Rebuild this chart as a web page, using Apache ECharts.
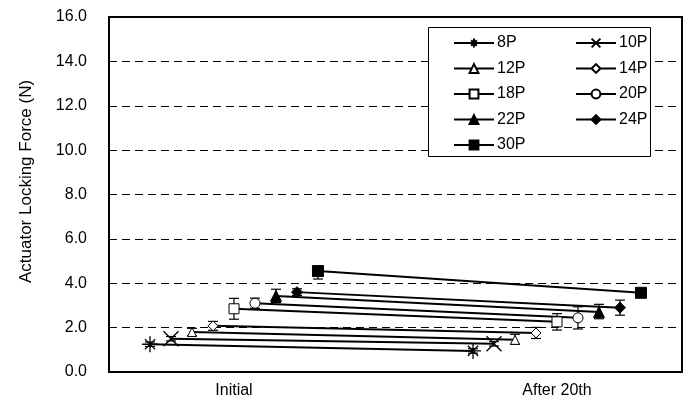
<!DOCTYPE html>
<html>
<head>
<meta charset="utf-8">
<script src="https://cdn.jsdelivr.net/npm/echarts@6/dist/echarts.min.js"></script>
<style>html,body{margin:0;padding:0;background:#fff}#c{width:691px;height:407px}</style>
</head>
<body>
<div id="c"></div>
<script>
// ---- data ----
const seriesNames = ['8P', '10P', '12P', '14P', '18P', '20P', '22P', '24P', '30P'];
const categories = ['Initial', 'After 20th'];
const initialValues = [1.25, 1.50, 1.80, 2.08, 2.85, 3.10, 3.43, 3.60, 4.55];
const afterValues   = [0.95, 1.27, 1.45, 1.76, 2.26, 2.44, 2.70, 2.90, 3.57];
const initialErrLow  = [0.10, 0.10, 0.17, 0.20, 0.47, 0.23, 0.30, 0.15, 0.36];
const initialErrHigh = [0.10, 0.10, 0.17, 0.20, 0.47, 0.23, 0.30, 0.15, 0.00];
const afterErrLow    = [0.10, 0.10, 0.20, 0.25, 0.37, 0.50, 0.30, 0.34, 0.00];
const afterErrHigh   = [0.10, 0.10, 0.25, 0.25, 0.37, 0.50, 0.35, 0.34, 0.00];
const yTicks = [0, 2, 4, 6, 8, 10, 12, 14, 16];

// ---- styling ----
const FONT = "'Liberation Sans',Arial,sans-serif";
const symbols = [
  'path://M5,0L5,10M0,5L10,5M1.8,1.8L8.2,8.2M8.2,1.8L1.8,8.2',
  'path://M0,0L10,10M10,0L0,10',
  'triangle', 'diamond', 'rect', 'circle', 'triangle', 'diamond', 'rect'
];
const filled = [false, false, false, false, false, false, true, true, true];
const sizes = [16, 15, 9, 10, 10, 10, 11, 11, 11];
const step = 0.065;
const mid = 4;

const series = [];
seriesNames.forEach((name, i) => {
  const off = (i - mid) * step;
  series.push({
    name: name,
    type: 'line',
    data: [[1 + off, initialValues[i]], [2 + off, afterValues[i]]],
    symbol: symbols[i],
    symbolSize: sizes[i],
    symbolKeepAspect: true,
    lineStyle: { color: '#000', width: 2 },
    itemStyle: {
      color: filled[i] ? '#000' : (i < 2 ? 'none' : '#fff'),
      borderColor: '#000',
      borderWidth: i < 2 ? 1.3 : 1
    },
    z: 3
  });
  series.push({
    name: name,
    type: 'custom',
    data: [
      [1 + off, initialValues[i] - initialErrLow[i], initialValues[i] + initialErrHigh[i]],
      [2 + off, afterValues[i] - afterErrLow[i], afterValues[i] + afterErrHigh[i]]
    ],
    renderItem: function (params, api) {
      const x = api.value(0);
      const lo = api.coord([x, api.value(1)]);
      const hi = api.coord([x, api.value(2)]);
      const w = 5;
      return {
        type: 'group',
        children: [
          { type: 'line', shape: { x1: lo[0], y1: lo[1], x2: hi[0], y2: hi[1] }, style: { stroke: '#000', lineWidth: 1.2 } },
          { type: 'line', shape: { x1: lo[0] - w, y1: lo[1], x2: lo[0] + w, y2: lo[1] }, style: { stroke: '#000', lineWidth: 1.2 } },
          { type: 'line', shape: { x1: hi[0] - w, y1: hi[1], x2: hi[0] + w, y2: hi[1] }, style: { stroke: '#000', lineWidth: 1.2 } }
        ]
      };
    },
    z: 2,
    silent: true
  });
});

const chart = echarts.init(document.getElementById('c'), null, { renderer: 'canvas' });
const legendCommon = {
  orient: 'vertical',
  top: 30,
  itemWidth: 40,
  itemHeight: 11,
  itemGap: 9.5,
  textStyle: { fontFamily: FONT, fontSize: 16, color: '#000', padding: [0, 0, 0, -2] },
  selectedMode: false
};
chart.setOption({
  animation: false,
  backgroundColor: '#fff',
  grid: { left: 109, right: 9, top: 17, bottom: 35, show: true, borderColor: '#000', borderWidth: 2, backgroundColor: 'transparent' },
  legend: [
    Object.assign({}, legendCommon, { left: 448, data: ['8P', '12P', '18P', '22P', '30P'] }),
    Object.assign({}, legendCommon, { left: 570, data: ['10P', '14P', '20P', '24P'] })
  ],
  graphic: [{
    type: 'rect', left: 428, top: 27, shape: { width: 222, height: 129 },
    style: { fill: '#fff', stroke: '#000', lineWidth: 1 }, z: 1
  }],
  xAxis: {
    type: 'value',
    min: 0.613,
    max: 2.387,
    splitLine: { show: false },
    axisLine: { show: false },
    axisTick: { show: false },
    axisLabel: {
      customValues: [1, 2],
      formatter: v => categories[Math.round(v) - 1],
      fontFamily: FONT, fontSize: 16, color: '#000', margin: 11
    }
  },
  yAxis: {
    type: 'value',
    min: yTicks[0],
    max: yTicks[yTicks.length - 1],
    interval: 2,
    name: 'Actuator Locking Force (N)',
    nameLocation: 'middle',
    nameGap: 74,
    nameTextStyle: { fontFamily: FONT, fontSize: 17, color: '#000', padding: [0, 0, 0, 26] },
    axisLine: { show: false },
    axisTick: { show: false },
    axisLabel: { formatter: v => v.toFixed(1), fontFamily: FONT, fontSize: 16, color: '#000', margin: 22 },
    splitLine: { show: true, lineStyle: { color: '#000', width: 1, type: [8, 5] } }
  },
  series: series
});
</script>
</body>
</html>
